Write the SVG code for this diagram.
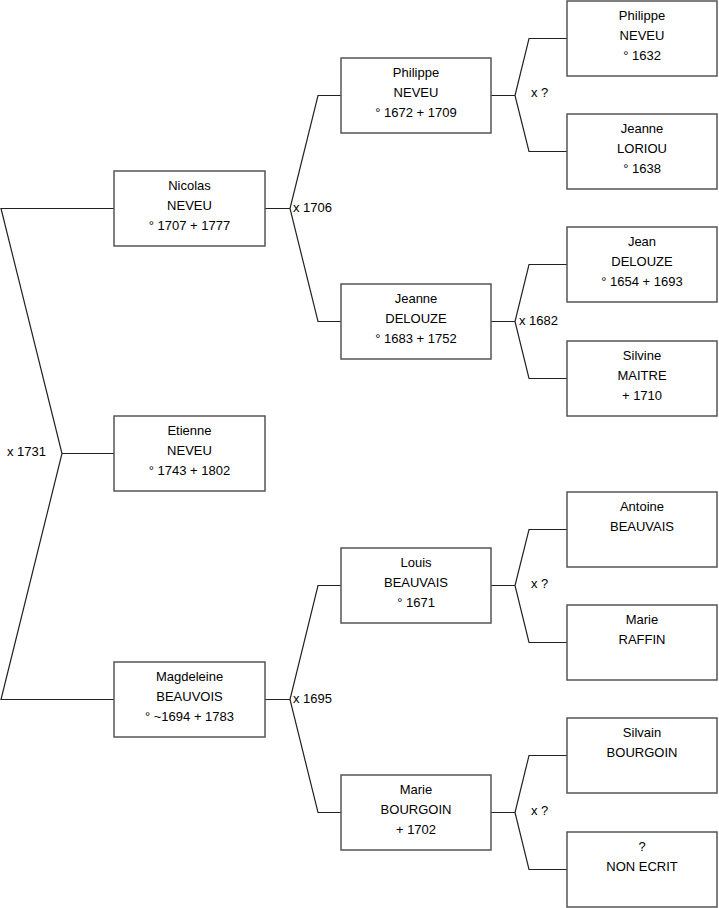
<svg xmlns="http://www.w3.org/2000/svg" width="719" height="908" viewBox="0 0 719 908">
<style>
.box{fill:#fff;stroke:#555;stroke-width:1.5}
.t{font-family:"Liberation Sans",Arial,sans-serif;font-size:13px;fill:#000;text-anchor:middle}
.lbl{font-family:"Liberation Sans",Arial,sans-serif;font-size:13px;fill:#000}
.c{fill:none;stroke:#222;stroke-width:1.2}
</style>
<rect width="719" height="908" fill="#fff"/>
<g id="connectors">
<path class="c" d="M114,208.5 H1 L62,453.5 L1,699.5 H114 M62,453.5 H114"/>
<path class="c" d="M265,208.5 H290 M341,95.5 H318 L290,208.5 L318,321.5 H341"/>
<path class="c" d="M265,699.5 H290 M341,585.5 H318 L290,699.5 L318,812.5 H341"/>
<path class="c" d="M491,95.5 H515 M567,38.5 H529 L515,95.5 L529,151.5 H567"/>
<path class="c" d="M491,321.5 H515 M567,264.5 H529 L515,321.5 L529,378.5 H567"/>
<path class="c" d="M491,585.5 H515 M567,529.5 H529 L515,585.5 L529,642.5 H567"/>
<path class="c" d="M491,812.5 H515 M567,755.5 H529 L515,812.5 L529,869.5 H567"/>
<text class="lbl" x="7" y="456">x 1731</text>
<text class="lbl" x="293" y="212">x 1706</text>
<text class="lbl" x="293" y="703">x 1695</text>
<text class="lbl" x="531" y="97">x ?</text>
<text class="lbl" x="519" y="325">x 1682</text>
<text class="lbl" x="531" y="588">x ?</text>
<text class="lbl" x="531" y="815">x ?</text>
</g>
<g id="nicolas"><rect class="box" x="114" y="171" width="151" height="75"/><text class="t" x="189.5" y="190">Nicolas</text><text class="t" x="189.5" y="210">NEVEU</text><text class="t" x="189.5" y="230">° 1707 + 1777</text></g>
<g id="etienne"><rect class="box" x="114" y="416" width="151" height="75"/><text class="t" x="189.5" y="435">Etienne</text><text class="t" x="189.5" y="455">NEVEU</text><text class="t" x="189.5" y="475">° 1743 + 1802</text></g>
<g id="magdeleine"><rect class="box" x="114" y="662" width="151" height="75"/><text class="t" x="189.5" y="681">Magdeleine</text><text class="t" x="189.5" y="701">BEAUVOIS</text><text class="t" x="189.5" y="721">° ~1694 + 1783</text></g>
<g id="philippe1"><rect class="box" x="341" y="58" width="150" height="75"/><text class="t" x="416" y="77">Philippe</text><text class="t" x="416" y="97">NEVEU</text><text class="t" x="416" y="117">° 1672 + 1709</text></g>
<g id="jeanne1"><rect class="box" x="341" y="284" width="150" height="75"/><text class="t" x="416" y="303">Jeanne</text><text class="t" x="416" y="323">DELOUZE</text><text class="t" x="416" y="343">° 1683 + 1752</text></g>
<g id="louis"><rect class="box" x="341" y="548" width="150" height="75"/><text class="t" x="416" y="567">Louis</text><text class="t" x="416" y="587">BEAUVAIS</text><text class="t" x="416" y="607">° 1671</text></g>
<g id="marie1"><rect class="box" x="341" y="775" width="150" height="75"/><text class="t" x="416" y="794">Marie</text><text class="t" x="416" y="814">BOURGOIN</text><text class="t" x="416" y="834">+ 1702</text></g>
<g id="philippe2"><rect class="box" x="567" y="1" width="150" height="75"/><text class="t" x="642" y="20">Philippe</text><text class="t" x="642" y="40">NEVEU</text><text class="t" x="642" y="60">° 1632</text></g>
<g id="jeanne2"><rect class="box" x="567" y="114" width="150" height="75"/><text class="t" x="642" y="133">Jeanne</text><text class="t" x="642" y="153">LORIOU</text><text class="t" x="642" y="173">° 1638</text></g>
<g id="jean"><rect class="box" x="567" y="227" width="150" height="75"/><text class="t" x="642" y="246">Jean</text><text class="t" x="642" y="266">DELOUZE</text><text class="t" x="642" y="286">° 1654 + 1693</text></g>
<g id="silvine"><rect class="box" x="567" y="341" width="150" height="75"/><text class="t" x="642" y="360">Silvine</text><text class="t" x="642" y="380">MAITRE</text><text class="t" x="642" y="400">+ 1710</text></g>
<g id="antoine"><rect class="box" x="567" y="492" width="150" height="75"/><text class="t" x="642" y="511">Antoine</text><text class="t" x="642" y="531">BEAUVAIS</text></g>
<g id="marie2"><rect class="box" x="567" y="605" width="150" height="75"/><text class="t" x="642" y="624">Marie</text><text class="t" x="642" y="644">RAFFIN</text></g>
<g id="silvain"><rect class="box" x="567" y="718" width="150" height="75"/><text class="t" x="642" y="737">Silvain</text><text class="t" x="642" y="757">BOURGOIN</text></g>
<g id="unknown"><rect class="box" x="567" y="832" width="150" height="75"/><text class="t" x="642" y="851">?</text><text class="t" x="642" y="871">NON ECRIT</text></g>
</svg>
